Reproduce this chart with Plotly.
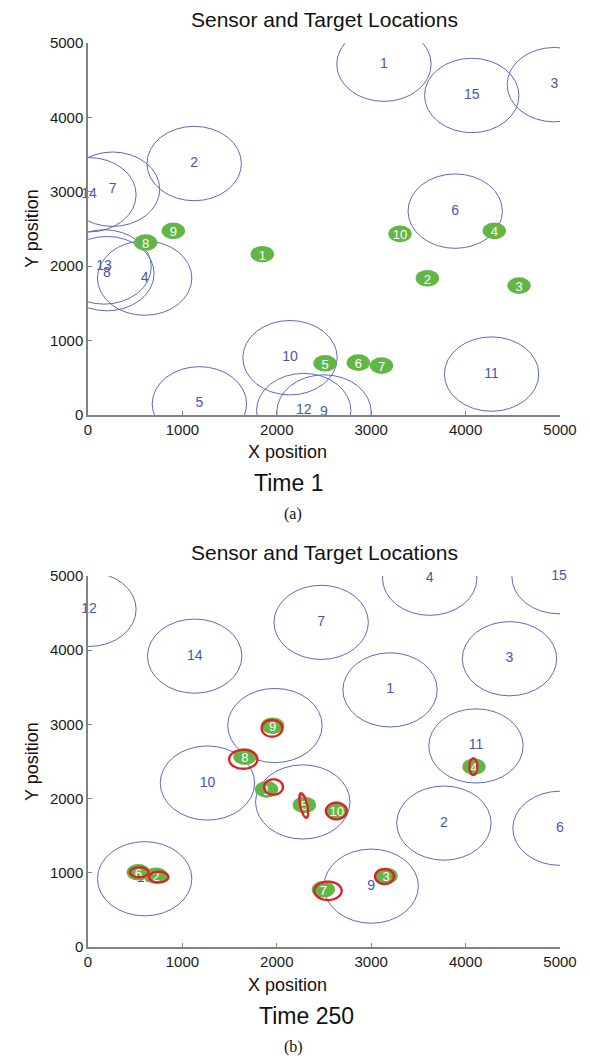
import numpy as np
import plotly.graph_objects as go

# ---------------- Data: Time 1 ----------------
s1_id = ['1', '15', '3', '2', '7', '14', '13', '8', '4', '10', '5', '12', '9', '6', '11']
s1_x = [3135, 4065, 4940, 1125, 260, 10, 170, 200, 600, 2140, 1180, 2285, 2500, 3890, 4275]
s1_y = [4715, 4295, 4440, 3380, 3035, 2960, 1990, 1900, 1840, 770, 150, 60, 40, 2740, 550]

t1_id = ['1', '2', '3', '4', '5', '6', '7', '8', '9', '10']
t1_x = [1846, 3595, 4566, 4304, 2511, 2864, 3110, 611, 904, 3305]
t1_y = [2161, 1838, 1740, 2475, 695, 704, 664, 2318, 2475, 2435]

# ---------------- Data: Time 250 ----------------
s2_id = ['12', '14', '7', '4', '15', '3', '1', '11', '2', '6', '9', '10', '13', '5', '8']
s2_x = [10, 1130, 2470, 3620, 4990, 4465, 3200, 4110, 3770, 5000, 3000, 1265, 600, 1980, 2275]
s2_y = [4550, 3920, 4375, 4970, 4990, 3885, 3465, 2710, 1670, 1600, 820, 2210, 920, 2985, 1955]

t2_id = ['9', '8', '1', '5', '10', '7', '3', '4', '6', '2']
t2_x = [1956, 1663, 1892, 2292, 2634, 2493, 3157, 4089, 533, 720]
t2_y = [2982, 2565, 2125, 1914, 1833, 778, 957, 2430, 1007, 961]

# estimated target positions (red ellipses): centre, semi-axes, tilt (deg)
e2_x = [1949, 1645, 1965, 2285, 2631, 2542, 3141, 4082, 542, 749]
e2_y = [2947, 2530, 2156, 1907, 1833, 757, 950, 2430, 1007, 943]
e2_a = [110, 150, 100, 37, 110, 145, 100, 42, 97, 102]
e2_b = [112, 128, 104, 168, 112, 124, 101, 112, 67, 72]
e2_ang = [0, 0, 0, 10, 0, 0, 0, 0, 0, 0]

ticks = [0, 1000, 2000, 3000, 4000, 5000]
tick_text = ['0', '1000', '2000', '3000', '4000', '5000']

SENSOR_R = 500
TGT_RX, TGT_RY = 124, 112

BLUE_LINE = 'rgb(92,106,190)'
BLUE_TEXT = 'rgb(70,86,176)'
GREEN = 'rgb(99,182,70)'
RED = 'rgb(226,30,36)'
FONT = 'Liberation Sans, Arial, sans-serif'
SERIF = 'Liberation Serif, Times New Roman, serif'

# the page places the figure 8px in from the top-left corner (body margin)
OFF = 8
W, H = 590 - OFF, 1058 - OFF
fig = go.Figure()
shapes = []


def fx(px):
    return (px - OFF) / W


def fy(py):
    return 1 - (py - OFF) / H


def add_panel(xr, yr, sid, sx, sy, tid, tx, ty, ex=None, ey=None, ea=None, eb=None, eang=None):
    # sensor circles
    for x, y in zip(sx, sy):
        shapes.append(dict(type='circle', xref=xr, yref=yr, x0=x - SENSOR_R, x1=x + SENSOR_R,
                           y0=y - SENSOR_R, y1=y + SENSOR_R, layer='below',
                           line=dict(color=BLUE_LINE, width=1)))
    # sensor labels
    fig.add_trace(go.Scatter(x=sx, y=sy, text=sid, mode='text', xaxis=xr, yaxis=yr,
                             textfont=dict(color=BLUE_TEXT, size=14, family=FONT),
                             cliponaxis=False, hoverinfo='skip', showlegend=False))
    # targets
    for lab, x, y in zip(tid, tx, ty):
        shapes.append(dict(type='circle', xref=xr, yref=yr, x0=x - TGT_RX, x1=x + TGT_RX,
                           y0=y - TGT_RY, y1=y + TGT_RY, layer='above',
                           fillcolor=GREEN, line=dict(width=0),
                           label=dict(text=lab, font=dict(color='white', size=13, family=FONT),
                                      textposition='middle center')))
    if ex is not None:
        phi = np.linspace(0, 2 * np.pi, 49)
        for x, y, a, b, ang in zip(ex, ey, ea, eb, eang):
            t = np.deg2rad(ang)
            px = x + a * np.cos(phi) * np.cos(t) - b * np.sin(phi) * np.sin(t)
            py = y + a * np.cos(phi) * np.sin(t) + b * np.sin(phi) * np.cos(t)
            path = 'M ' + ' L '.join(f'{u:.1f},{v:.1f}' for u, v in zip(px, py)) + ' Z'
            shapes.append(dict(type='path', path=path, xref=xr, yref=yr, layer='above',
                               line=dict(color=RED, width=2.3)))


add_panel('x', 'y', s1_id, s1_x, s1_y, t1_id, t1_x, t1_y)
add_panel('x2', 'y2', s2_id, s2_x, s2_y, t2_id, t2_x, t2_y, e2_x, e2_y, e2_a, e2_b, e2_ang)

xdom = [fx(88), fx(560)]
ydom1 = [fy(415), fy(43)]
ydom2 = [fy(947), fy(576)]

axis_common = dict(range=[0, 5000], tickvals=ticks, ticktext=tick_text, showgrid=False,
                   zeroline=False, showline=True, linecolor='rgb(130,130,130)', linewidth=1.5,
                   ticks='inside', ticklen=4, tickcolor='rgb(130,130,130)', tickwidth=1,
                   automargin=False,
                   tickfont=dict(family=FONT, size=15, color='#1a1a1a'), fixedrange=True)

fig.update_layout(
    template='none',
    width=W, height=H, margin=dict(l=0, r=0, t=0, b=0, pad=0), autosize=False,
    paper_bgcolor='white', plot_bgcolor='white', showlegend=False,
    xaxis=dict(domain=xdom, anchor='y', **axis_common),
    yaxis=dict(domain=ydom1, anchor='x', **axis_common),
    xaxis2=dict(domain=xdom, anchor='y2', **axis_common),
    yaxis2=dict(domain=ydom2, anchor='x2', **axis_common),
    shapes=shapes,
)


def ann(text, px, py, size, family=FONT, angle=0):
    fig.add_annotation(text=text, x=fx(px), y=fy(py), xref='paper', yref='paper',
                       showarrow=False, xanchor='center', yanchor='middle', textangle=angle,
                       font=dict(family=family, size=size, color='#111'))


ann('Sensor and Target Locations', 324, 19, 21)
ann('X position', 287, 452, 18)
ann('Time 1', 288, 483, 23)
ann('(a)', 293, 514, 16, family=SERIF)
ann('Y position', 32, 229, 18, angle=-90)

ann('Sensor and Target Locations', 324, 552, 21)
ann('X position', 287, 985, 18)
ann('Time 250', 306, 1016, 23)
ann('(b)', 293, 1047, 16, family=SERIF)
ann('Y position', 32, 762, 18, angle=-90)

fig.write_html('out.html')
